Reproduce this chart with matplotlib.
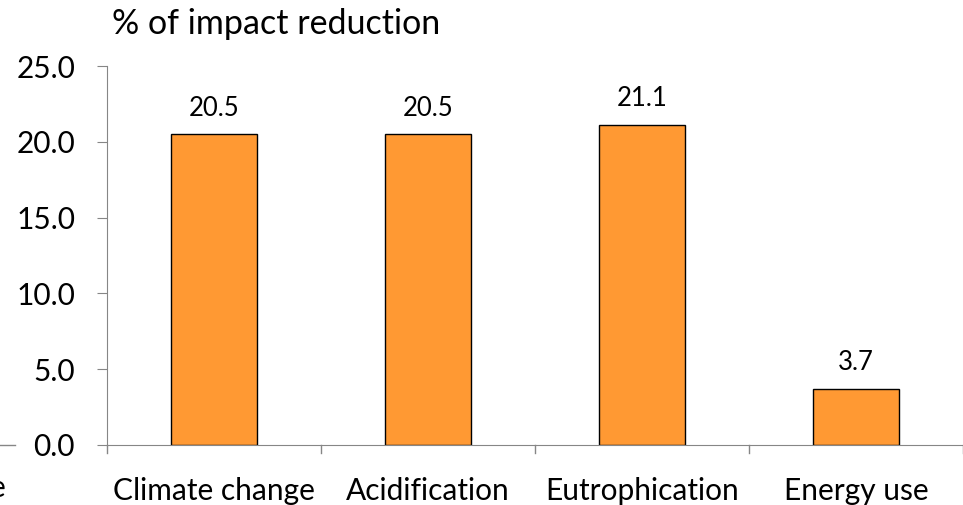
import matplotlib.pyplot as plt
from matplotlib.lines import Line2D

categories = ['Climate change', 'Acidification', 'Eutrophication', 'Energy use']
reduction = [20.5, 20.5, 21.1, 3.7]
yticks = [0, 5, 10, 15, 20, 25]

plt.rcParams['font.family'] = ['Lato', 'DejaVu Sans']

fig = plt.figure(figsize=(9.63, 5.05), dpi=100)
ax = fig.add_axes([107 / 963, 60 / 505, 1 - 107 / 963, (445 - 66) / 505])

axis_grey = '#868686'
x = range(len(categories))
bars = ax.bar(x, reduction, width=0.4, color='#FF9933', edgecolor='black', linewidth=1)
for b, v in zip(bars, reduction):
    ax.text(b.get_x() + b.get_width() / 2, v + 0.9, f'{v:.1f}',
            ha='center', va='bottom', fontsize=18.5)

ax.set_xlim(-0.5, len(categories) - 0.5)
ax.set_ylim(0, 25)
ax.set_yticks(yticks)
ax.set_yticklabels([f'{t:.1f}' for t in yticks], fontsize=21.5)
ax.set_xticks(x)
ax.set_xticklabels(categories, fontsize=21.5)
ax.tick_params(axis='x', length=0, pad=23)
ax.tick_params(axis='y', length=7, color=axis_grey, pad=16)

# category separators on the x axis
for p in [i - 0.5 for i in range(len(categories) + 1)]:
    ax.plot([p, p], [0, -0.5], color=axis_grey, lw=1, clip_on=False)

for s in ['top', 'right']:
    ax.spines[s].set_visible(False)
for s in ['left', 'bottom']:
    ax.spines[s].set_color(axis_grey)

ax.text(5 / 856, 1.0 + 42 / 379, '% of impact reduction', transform=ax.transAxes,
        fontsize=24.5, ha='left', va='center')

# leftover of the neighbouring panel
fig.add_artist(Line2D([0, 15 / 963], [60 / 505, 60 / 505], color=axis_grey, lw=1))
fig.text(-10 / 963, 17 / 505, 'e', fontsize=21.5, ha='left', va='center')

fig.savefig('out.png', dpi=100)
